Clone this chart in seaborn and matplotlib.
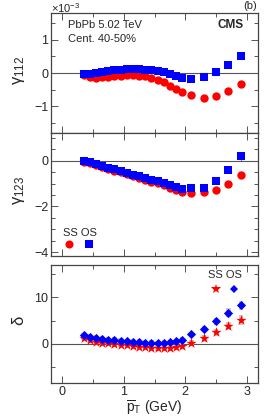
import numpy as np
import pandas as pd
import matplotlib
matplotlib.use("Agg")
import matplotlib.pyplot as plt
import seaborn as sns
from matplotlib.ticker import MultipleLocator

sns.set_theme(style="ticks")
plt.rcParams['font.family'] = ['Liberation Sans', 'DejaVu Sans']
plt.rcParams['mathtext.fontset'] = 'custom'
plt.rcParams['mathtext.rm'] = 'Liberation Sans'
plt.rcParams['mathtext.it'] = 'Liberation Sans'

# pT bins (GeV)
pt = [0.35, 0.45, 0.55, 0.65, 0.75, 0.85, 0.95, 1.05, 1.15, 1.25, 1.35, 1.45,
      1.55, 1.65, 1.75, 1.85, 1.95, 2.1, 2.3, 2.5, 2.7, 2.9]

# gamma_112 (x 1e-3)
g112_ss = [-0.05, -0.13, -0.14, -0.13, -0.11, -0.09, -0.08, -0.07, -0.07, -0.08, -0.10,
           -0.14, -0.20, -0.28, -0.39, -0.49, -0.58, -0.65, -0.75, -0.70, -0.53, -0.33]
g112_os = [-0.04, -0.03, 0.00, 0.03, 0.06, 0.08, 0.10, 0.11, 0.12, 0.11, 0.10,
           0.08, 0.05, 0.02, -0.03, -0.09, -0.14, -0.18, -0.11, 0.02, 0.23, 0.52]

# gamma_123 (x 1e-3)
g123_ss = [-0.03, -0.11, -0.19, -0.27, -0.35, -0.43, -0.51, -0.59, -0.67, -0.75, -0.83,
           -0.91, -0.99, -1.07, -1.17, -1.30, -1.37, -1.42, -1.37, -1.27, -1.00, -0.64]
g123_os = [0.00, -0.07, -0.15, -0.22, -0.30, -0.37, -0.45, -0.52, -0.60, -0.67, -0.75,
           -0.82, -0.90, -0.97, -1.05, -1.15, -1.24, -1.20, -1.17, -0.88, -0.39, 0.20]
g123_os_err = [0.02] * 21 + [0.15]

# delta
d_ss = [1.3, 0.7, 0.4, 0.2, 0.1, -0.1, -0.2, -0.35, -0.5, -0.65, -0.8, -0.9, -1.0,
        -1.0, -0.9, -0.8, -0.5, 0.15, 1.15, 2.45, 3.8, 5.1]
d_os = [1.8, 1.4, 1.2, 1.1, 0.9, 0.8, 0.65, 0.5, 0.43, 0.36, 0.2, 0.15, 0.07,
        0.2, 0.3, 0.5, 0.9, 2.0, 3.2, 4.8, 6.7, 8.3]
d_syst = [0.6] * 17 + [0.6, 0.7, 0.8, 0.9, 1.0]

df = pd.DataFrame({'pt': pt, 'g112_ss': g112_ss, 'g112_os': g112_os,
                   'g123_ss': g123_ss, 'g123_os': g123_os,
                   'd_ss': d_ss, 'd_os': d_os, 'd_syst': d_syst})

red = '#ff0000'
blue = '#0000ff'

fig = plt.figure(figsize=(2.66, 4.18), dpi=100)
L, W = 51 / 266, 207 / 266
ax1 = fig.add_axes([L, 1 - 133 / 418, W, 120 / 418])
ax2 = fig.add_axes([L, 1 - 255.5 / 418, W, 122.5 / 418])
ax3 = fig.add_axes([L, 1 - 383 / 418, W, 118 / 418])

# top: gamma112
sns.scatterplot(data=df, x='pt', y='g112_ss', ax=ax1, color=red, marker='o', s=36,
                linewidth=0, zorder=3)
sns.scatterplot(data=df, x='pt', y='g112_os', ax=ax1, color=blue, marker='s', s=30,
                linewidth=0, zorder=4)
ax1.set_ylim(-1.8, 1.8)

# middle: gamma123
ax2.errorbar(df['pt'], df['g123_os'], yerr=g123_os_err, fmt='none', ecolor=blue,
             elinewidth=0.8, zorder=2)
sns.scatterplot(data=df, x='pt', y='g123_ss', ax=ax2, color=red, marker='o', s=36,
                linewidth=0, zorder=3)
sns.scatterplot(data=df, x='pt', y='g123_os', ax=ax2, color=blue, marker='s', s=30,
                linewidth=0, zorder=4)
ax2.set_ylim(-4.15, 1.22)

# bottom: delta with grey syst boxes
for col in ['d_ss', 'd_os']:
    ax3.bar(df['pt'], 2 * df['d_syst'], bottom=df[col] - df['d_syst'], width=0.07,
            color='#c8c8c8', edgecolor='none', zorder=2)
sns.scatterplot(data=df, x='pt', y='d_ss', ax=ax3, color=red, marker='*', s=60,
                linewidth=0, zorder=3)
sns.scatterplot(data=df, x='pt', y='d_os', ax=ax3, color=blue, marker='D', s=22,
                linewidth=0, zorder=4)
ax3.set_ylim(-8.5, 17)

for ax in [ax1, ax2, ax3]:
    ax.set_xlim(-0.18, 3.18)
    ax.axhline(0, color='#555555', lw=0.8, zorder=1)
    ax.xaxis.set_major_locator(MultipleLocator(1))
    ax.xaxis.set_minor_locator(MultipleLocator(0.5))
    ax.tick_params(which='both', direction='in', top=True, right=True, labelsize=9,
                   pad=2, width=0.7, color='#555555')
    ax.tick_params(which='major', length=5)
    ax.tick_params(which='minor', length=3)
    for s in ax.spines.values():
        s.set_linewidth(0.9)
        s.set_color('#444444')
    ax.set_xlabel('')

ax1.yaxis.set_major_locator(MultipleLocator(1))
ax1.yaxis.set_minor_locator(MultipleLocator(0.5))
ax2.yaxis.set_major_locator(MultipleLocator(2))
ax2.yaxis.set_minor_locator(MultipleLocator(0.5))
ax3.yaxis.set_major_locator(MultipleLocator(10))
ax3.yaxis.set_minor_locator(MultipleLocator(5))
ax1.tick_params(labelbottom=False)
ax2.tick_params(labelbottom=False)

ax1.set_ylabel(r'$\gamma_{112}$', fontsize=12)
ax2.set_ylabel(r'$\gamma_{123}$', fontsize=12)
ax3.set_ylabel(r'$\delta$', fontsize=12)
ax1.yaxis.set_label_coords(-0.115, 0.52)
ax2.yaxis.set_label_coords(-0.115, 0.53)
ax3.yaxis.set_label_coords(-0.115, 0.53)
ax3.set_xlabel(r'$\overline{p}_{T}$ (GeV)', fontsize=10, labelpad=1)

fig.text(51 / 266, 1 - 1 / 418, r'$\times10^{-3}$', fontsize=8, ha='left', va='top')
fig.text(257 / 266, 1 - 1 / 418, '(b)', fontsize=8, ha='right', va='top')
ax1.text(0.08, 0.90, 'PbPb 5.02 TeV', transform=ax1.transAxes, fontsize=8,
         ha='left', va='center')
ax1.text(0.08, 0.78, 'Cent. 40-50%', transform=ax1.transAxes, fontsize=8,
         ha='left', va='center')
ax1.text(0.93, 0.90, 'CMS', transform=ax1.transAxes, fontsize=8.5,
         fontweight='bold', ha='right', va='center')

# legends
ax2.text(0.14, 0.184, 'SS OS', transform=ax2.transAxes, fontsize=8,
         ha='center', va='center')
ax2.plot([0.087], [0.094], 'o', color=red, ms=5.8, mew=0, transform=ax2.transAxes)
ax2.plot([0.184], [0.094], 's', color=blue, ms=5.2, mew=0, transform=ax2.transAxes)
ax3.text(0.84, 0.915, 'SS OS', transform=ax3.transAxes, fontsize=8,
         ha='center', va='center')
ax3.plot([0.797], [0.797], '*', color=red, ms=7.5, mew=0, transform=ax3.transAxes)
ax3.plot([0.884], [0.797], 'D', color=blue, ms=4.5, mew=0, transform=ax3.transAxes)

fig.savefig('out.png', dpi=100)
